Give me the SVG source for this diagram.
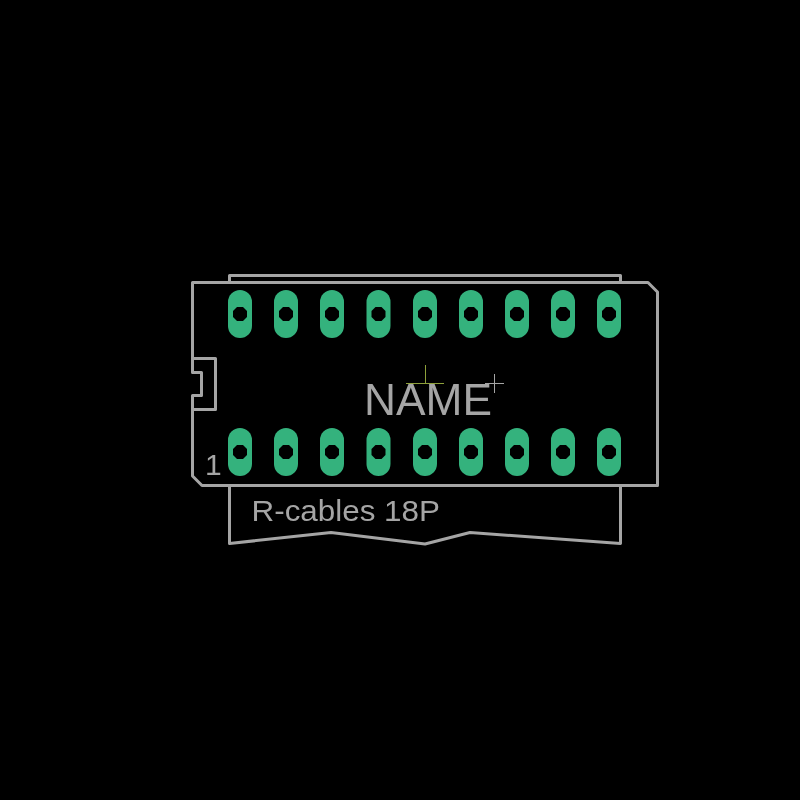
<svg xmlns="http://www.w3.org/2000/svg" width="800" height="800" viewBox="0 0 800 800">
<defs>
<style>
.o{fill:none;stroke:#a5a5a5;stroke-width:3;stroke-linejoin:round;stroke-linecap:round}
.t{fill:#a5a5a5;font-family:"Liberation Sans",Arial,sans-serif}
.p{fill:#34b27d}
.h{fill:#000}
</style>
<filter id="gray" x="0" y="0" width="1" height="1" filterUnits="objectBoundingBox"><feOffset dx="0" dy="0"/></filter>
<g id="pad"><rect class="p" x="-12" y="-24" width="24" height="48" rx="12" ry="12"/><polygon class="h" points="-3,-7 3,-7 7,-3 7,3 3,7 -3,7 -7,3 -7,-3"/></g>
</defs>
<rect width="800" height="800" fill="#000"/>
<g id="outline">
<path class="o" d="M229.500 282V275.500H620.500V282"/>
<path class="o" d="M192.500 282.500H648L657.500 292V485.500H202L192.500 476V395.500H201.500V372.500H192.500Z"/>
<path class="o" d="M192.500 358.500H215.500V409.500H192.500"/>
<path class="o" d="M229.500 485.500V543.500L331 532.500L425 544L470 532.500L620.500 543.500V485.500"/>
</g>
<g id="pads">
<use href="#pad" x="240" y="314"/><use href="#pad" x="286" y="314"/><use href="#pad" x="332" y="314"/><use href="#pad" x="378.500" y="314"/><use href="#pad" x="425" y="314"/><use href="#pad" x="471" y="314"/><use href="#pad" x="517" y="314"/><use href="#pad" x="563" y="314"/><use href="#pad" x="609" y="314"/>
<use href="#pad" x="240" y="452"/><use href="#pad" x="286" y="452"/><use href="#pad" x="332" y="452"/><use href="#pad" x="378.500" y="452"/><use href="#pad" x="425" y="452"/><use href="#pad" x="471" y="452"/><use href="#pad" x="517" y="452"/><use href="#pad" x="563" y="452"/><use href="#pad" x="609" y="452"/>
</g>
<g id="marks" fill="none" stroke-width="1">
<path stroke="#8ea03a" d="M425.500 365V384M406 383.500H444"/>
<path stroke="#a5a5a5" d="M494.500 374V393M485 383.500H504"/>
</g>
<g id="labels" filter="url(#gray)">
<text class="t" x="364" y="415" font-size="44" textLength="128" lengthAdjust="spacingAndGlyphs">NAME</text>
<text class="t" x="205" y="475" font-size="30">1</text>
<text class="t" x="251.500" y="520.500" font-size="30" textLength="188.500" lengthAdjust="spacingAndGlyphs">R-cables 18P</text>
</g>
</svg>
